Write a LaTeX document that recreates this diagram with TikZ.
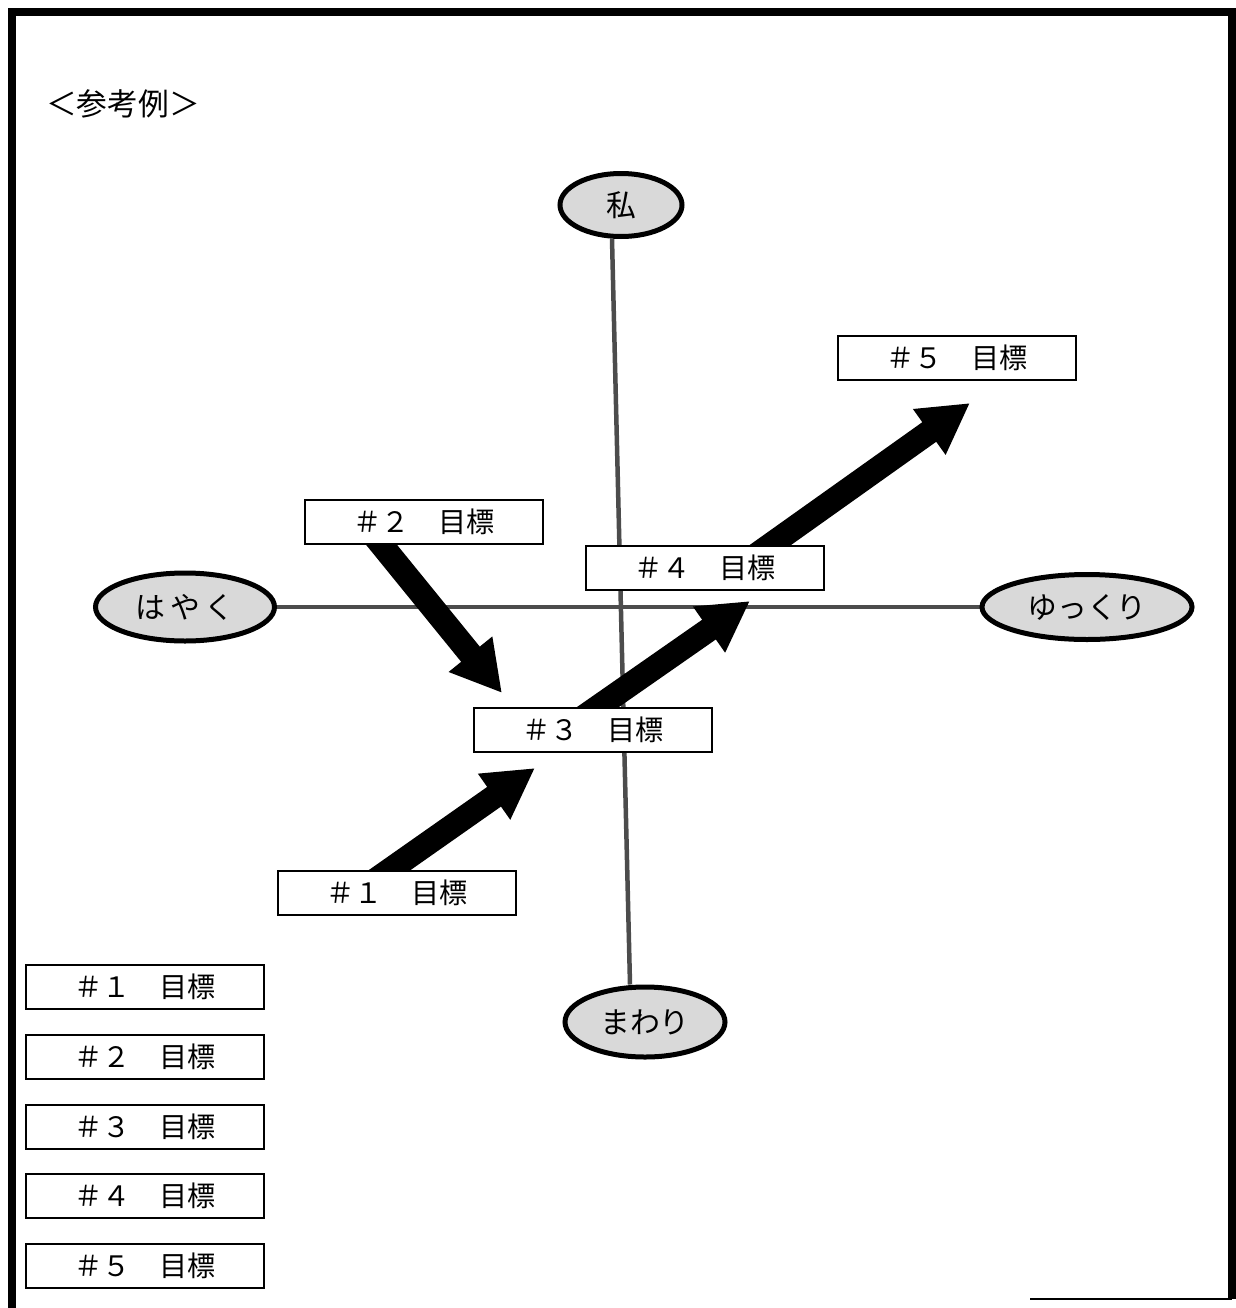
\documentclass[tikz,border=0pt]{standalone}
\usepackage{fontspec}
\newfontfamily\jp{Noto Sans CJK JP}
\usetikzlibrary{shapes.geometric,arrows.meta}
\pgfdeclarelayer{background}
\pgfsetlayers{background,main}

\tikzset{
  goal/.style={draw, line width=0.4mm, fill=white, minimum width=47.6mm,
    minimum height=8.8mm, inner sep=0pt, font=\jp\fontsize{16pt}{19pt}\selectfont},
  pole/.style={ellipse, draw, line width=1mm, fill=black!15, inner sep=0pt,
    font=\jp\fontsize{17pt}{20pt}\selectfont},
  axis/.style={line width=0.9mm, black!70},
  bigarrow/.style={line width=4.8mm, -{Triangle[width=10.5mm,length=10mm]}},
}

\begin{document}
\begin{tikzpicture}[x=0.2mm, y=-0.2mm]
    \useasboundingbox (0,0) rectangle (1236,1308);

    % Frame
    \draw[line width=1.6mm] (12,1308) -- (12,12) -- (1232,12) -- (1232,1299);
    \draw[line width=0.3mm] (1030,1299) -- (1232,1299);

    \node[anchor=west, font=\jp\fontsize{17.5pt}{21pt}\selectfont] (title) at (40,104) {＜参考例＞};

    % Poles of the axes
    \node[pole, minimum width=24.4mm, minimum height=12.6mm] (me) at (621,205) {私};
    \node[pole, minimum width=35.8mm, minimum height=13.6mm] (fast) at (185,607) {は\,や\,く};
    \node[pole, minimum width=42mm, minimum height=13mm] (slow) at (1087,607) {ゆっくり};
    \node[pole, minimum width=32mm, minimum height=14mm] (around) at (645,1022) {まわり};

    % Goals
    \node[goal] (g1) at (397,893) {＃１　目標};
    \node[goal] (g2) at (424,522) {＃２　目標};
    \node[goal] (g3) at (593,730) {＃３　目標};
    \node[goal] (g4) at (705,568) {＃４　目標};
    \node[goal] (g5) at (957,358) {＃５　目標};

    % List on the left
    \node[goal] (l1) at (145,987) {＃１　目標};
    \node[goal] (l2) at (145,1057) {＃２　目標};
    \node[goal] (l3) at (145,1127) {＃３　目標};
    \node[goal] (l4) at (145,1196) {＃４　目標};
    \node[goal] (l5) at (145,1266) {＃５　目標};

    \begin{pgfonlayer}{background}
    % Axes
    \draw[axis] ([shift={(-9,0)}]me.south) -- ([shift={(-15,0)}]around.north);
    \draw[axis] (fast) -- (slow);

    % Steps
    \draw[bigarrow] ([shift={(-40,0)}]g1.center) -- ([shift={(-58,15)}]g3.south);
    \draw[bigarrow] ([shift={(-61,0)}]g2.center) -- ([shift={(-91,-14)}]g3.north);
    \draw[bigarrow] ([shift={(-28,0)}]g3.center) -- ([shift={(45,10)}]g4.south);
    \draw[bigarrow] ([shift={(33,0)}]g4.center) -- ([shift={(13,22)}]g5.south);
    \end{pgfonlayer}

\end{tikzpicture}
\end{document}
